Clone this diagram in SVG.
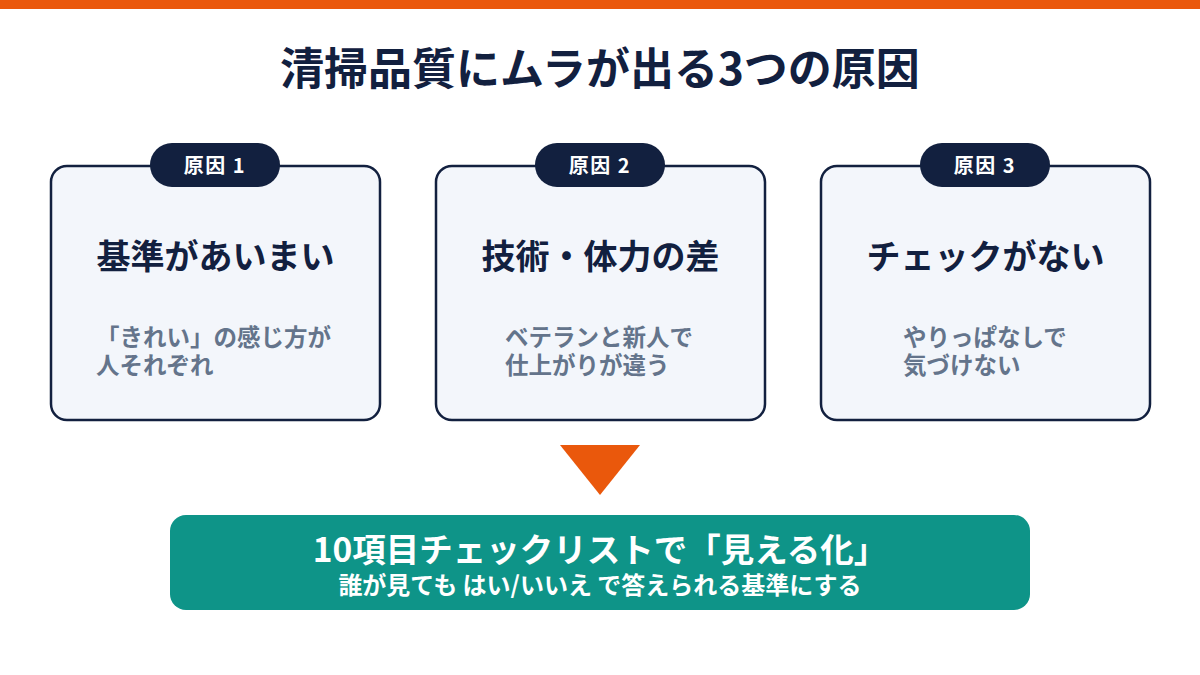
<svg xmlns="http://www.w3.org/2000/svg" width="1200" height="675" viewBox="0 0 1200 675">
<style>
text{font-family:"Noto Sans CJK JP","Noto Sans",sans-serif;font-weight:700}
.title{font-size:44px;fill:#12203F;text-anchor:middle}
.card{fill:#F3F6FB;stroke:#12203F;stroke-width:2.5}
.badge{fill:#12203F}
.btxt{font-size:20px;fill:#FFFFFF;text-anchor:middle;letter-spacing:1.5px}
.head{font-size:34px;fill:#12203F;text-anchor:middle}
.desc{font-size:23.5px;fill:#64748B}
.res{fill:#0E9488}
.r1{font-size:33.5px;fill:#FFFFFF;text-anchor:middle}
.r2{font-size:24px;fill:#FFFFFF;text-anchor:middle}
</style>
<rect x="0" y="0" width="1200" height="675" fill="#FFFFFF"/>
<rect x="0" y="0" width="1200" height="9" fill="#EA580C"/>
<text class="title" x="600" y="85">清掃品質にムラが出る3つの原因</text>

<g id="cause1">
<rect class="card" x="51" y="166" width="329" height="254" rx="16"/>
<rect class="badge" x="150" y="143" width="130" height="44" rx="22"/>
<text class="btxt" x="215" y="173">原因 1</text>
<text class="head" x="215.5" y="269">基準があいまい</text>
<text class="desc"><tspan x="96" y="346">「きれい」の感じ方が</tspan><tspan x="96" y="374">人それぞれ</tspan></text>
</g>

<g id="cause2">
<rect class="card" x="436" y="166" width="329" height="254" rx="16"/>
<rect class="badge" x="535" y="143" width="130" height="44" rx="22"/>
<text class="btxt" x="600" y="173">原因 2</text>
<text class="head" x="600.5" y="269">技術・体力の差</text>
<text class="desc"><tspan x="505" y="346">ベテランと新人で</tspan><tspan x="505" y="374">仕上がりが違う</tspan></text>
</g>

<g id="cause3">
<rect class="card" x="821" y="166" width="329" height="254" rx="16"/>
<rect class="badge" x="920" y="143" width="130" height="44" rx="22"/>
<text class="btxt" x="985" y="173">原因 3</text>
<text class="head" x="985.5" y="269">チェックがない</text>
<text class="desc"><tspan x="903" y="346">やりっぱなしで</tspan><tspan x="903" y="374">気づけない</tspan></text>
</g>

<g id="connectors">
<polygon points="560,445 640,445 600,495" fill="#EA580C"/>
</g>

<g id="solution">
<rect class="res" x="170" y="515" width="860" height="95" rx="16"/>
<text class="r1" x="600" y="562">10項目チェックリストで「見える化」</text>
<text class="r2" x="600" y="594">誰が見ても はい/いいえ で答えられる基準にする</text>
</g>
</svg>
